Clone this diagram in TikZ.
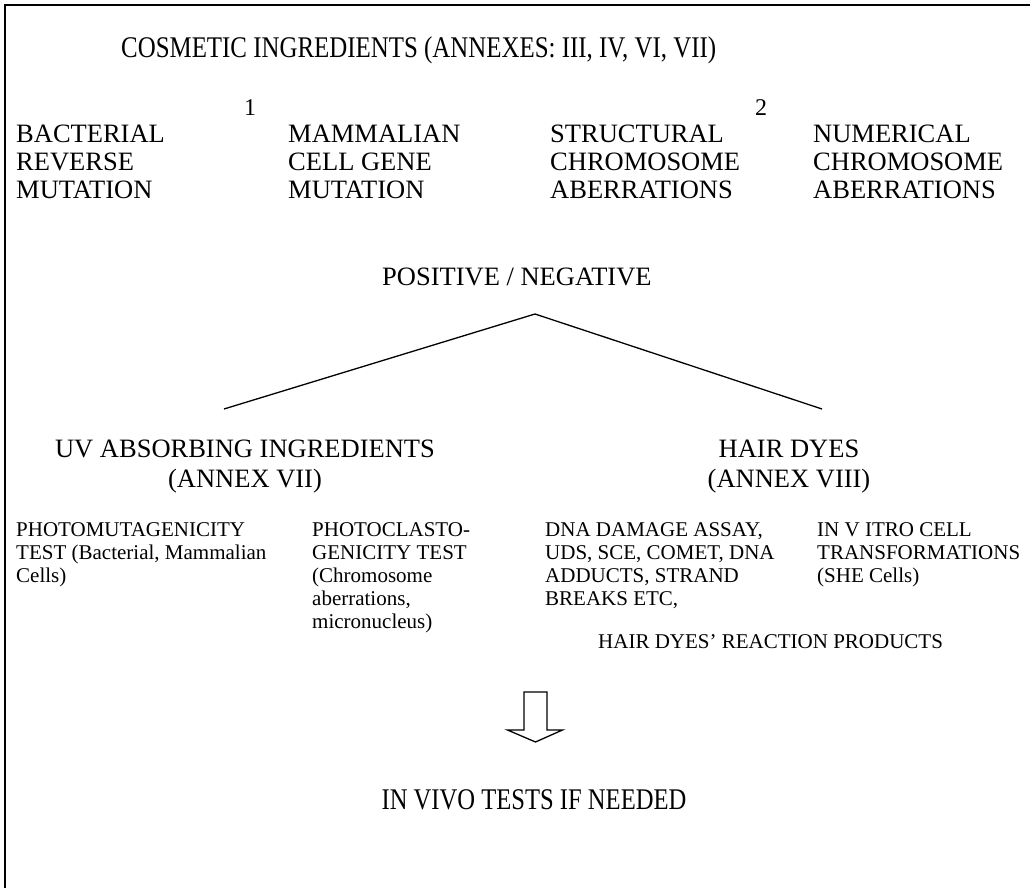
\documentclass[tikz,border=0pt]{standalone}
\usepackage{fontspec}
\setmainfont{Liberation Serif}
\begin{document}
\begin{tikzpicture}[x=1pt,y=-1pt,
  lbl/.style={inner sep=0pt, anchor=base west, align=left},
  clbl/.style={inner sep=0pt, anchor=base, align=center},
  titlef/.style={font=\fontsize{30}{32}\selectfont},
  bodyf/.style={font=\fontsize{26.5}{30}\selectfont},
  rowf/.style={font=\fontsize{26.5}{27.5}\selectfont},
  smallf/.style={font=\fontsize{21}{23}\selectfont},
  numf/.style={font=\fontsize{24}{26}\selectfont},
  frame/.style={line width=2pt},
  conn/.style={line width=1.3pt},
  blockarrow/.style={line width=1.3pt, fill=white, line join=miter}]
\useasboundingbox (0,0) rectangle (1034,888);
% frame (top and left only)
\draw[frame] (5,888) -- (5,5) -- (1030,5);
% title
\node[lbl,titlef] (title) at (121,58) {\scalebox{0.83}[1]{COSMETIC INGREDIENTS (ANNEXES: III, IV, VI, VII)}};
\node[clbl,numf] (n1) at (250,116) {1};
\node[clbl,numf] (n2) at (761,116) {2};
% test columns (anchor = baseline of last line)
\node[lbl,rowf] (bact) at (16,198) {BACTERIAL\\REVERSE\\MUTATION};
\node[lbl,rowf] (mamm) at (288,198) {MAMMALIAN\\CELL GENE\\MUTATION};
\node[lbl,rowf] (struct) at (550,198) {STRUCTURAL\\CHROMOSOME\\ABERRATIONS};
\node[lbl,rowf] (numer) at (813,198) {NUMERICAL\\CHROMOSOME\\ABERRATIONS};
\node[lbl,bodyf] (posneg) at (382,285) {POSITIVE / NEGATIVE};
% branching lines
\coordinate (peak) at (535,314);
\coordinate (lend) at (224,409);
\coordinate (rend) at (822,409);
\draw[conn] (lend) -- (peak) -- (rend);
% branches
\node[clbl,bodyf] (uv) at (245,487) {UV ABSORBING INGREDIENTS\\(ANNEX VII)};
\node[clbl,bodyf] (hair) at (789,487) {HAIR DYES\\(ANNEX VIII)};
% tests (anchor = baseline of last line)
\node[lbl,smallf] (photomut) at (16,582) {PHOTOMUTAGENICITY\\TEST (Bacterial, Mammalian\\Cells)};
\node[lbl,smallf] (photoclast) at (312,628) {PHOTOCLASTO-\\GENICITY TEST\\(Chromosome\\aberrations,\\micronucleus)};
\node[lbl,smallf] (dna) at (545,605) {DNA DAMAGE ASSAY,\\UDS, SCE, COMET, DNA\\ADDUCTS, STRAND\\BREAKS ETC,};
\node[lbl,smallf] (invitro) at (817,582) {IN V ITRO CELL\\TRANSFORMATIONS\\(SHE Cells)};
\node[lbl,smallf] (react) at (598,648) {HAIR DYES’ REACTION PRODUCTS};
% block arrow
\coordinate (arr) at (535.5,692);
\draw[blockarrow] ([shift={(-11.5,0)}]arr) -- ([shift={(-11.5,38)}]arr) -- ([shift={(-28,38)}]arr) -- ([shift={(0,50)}]arr) -- ([shift={(27,38)}]arr) -- ([shift={(11.5,38)}]arr) -- ([shift={(11.5,0)}]arr) -- cycle;
\node[clbl,titlef] (invivo) at (534,809) {\scalebox{0.82}[1]{IN VIVO TESTS IF NEEDED}};
\end{tikzpicture}
\end{document}
